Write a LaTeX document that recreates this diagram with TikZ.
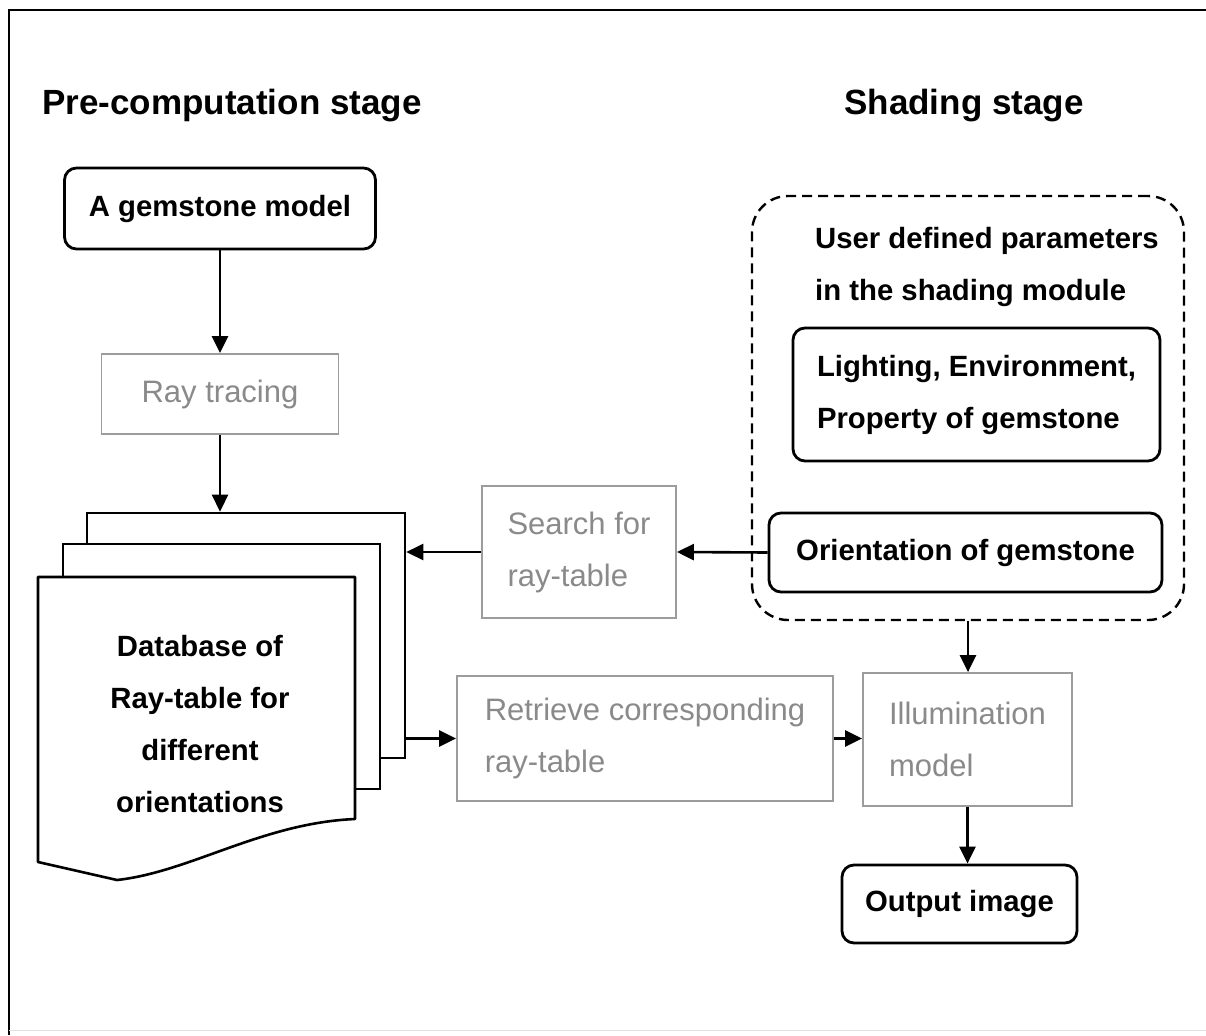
\documentclass[tikz,border=0pt]{standalone}
\usepackage{fontspec}
\setmainfont{Liberation Sans}
\usetikzlibrary{arrows.meta}
\definecolor{txtgray}{HTML}{8A8A8A}
\definecolor{boxgray}{HTML}{9C9C9C}
\begin{document}
\begin{tikzpicture}[x=1pt,y=-1pt,
  bfnt/.style={font=\fontsize{29.3}{52}\selectfont\bfseries},
  gfnt/.style={font=\fontsize{31}{52}\selectfont, text=txtgray},
  rbox/.style={draw=black, line width=2.8pt, rounded corners=12pt, fill=white, inner sep=0pt, bfnt, align=left},
  gbox/.style={draw=boxgray, line width=1.8pt, fill=white, inner sep=0pt, gfnt, align=left},
  sheet/.style={draw=black, line width=2.6pt, fill=white},
  arr/.style={line width=2.6pt, -{Triangle[length=17pt,width=16pt]}},
  title/.style={font=\fontsize{35}{40}\selectfont\bfseries}
]
\useasboundingbox (0,0) rectangle (1206,1035);
% frame
\draw[line width=2.6pt] (9,1035) -- (9,10) -- (1206,10);
\draw[line width=1pt, black!12] (9,1030) -- (1206,1030);

% titles
\node[title] (pretitle) at (232,106) {Pre-computation stage};
\node[title] (shadetitle) at (964,106) {Shading stage};

% left column
\node[rbox, minimum width=311pt, minimum height=81pt] (gem) at (220,208.5) {A gemstone model};
\node[gbox, minimum width=237pt, minimum height=80pt] (ray) at (220,394) {Ray tracing};

% document stack
\node[sheet, minimum width=318pt, minimum height=245pt, inner sep=0pt] (sheet3) at (246,635.5) {};
\node[sheet, minimum width=317pt, minimum height=245pt, inner sep=0pt] (sheet2) at (221.5,666.5) {};
\draw[sheet, line join=round] (38,577) -- (355,577) -- (355,819)
   .. controls (262,823) and (190,872) .. (117,880) -- (38,862) -- cycle;
\node[bfnt, align=center] (db) at (200,724) {Database of\\Ray-table for\\different\\orientations};

% shading stage container
\node[draw=black, line width=2.4pt, dash pattern=on 10pt off 6pt, rounded corners=36pt,
      minimum width=432pt, minimum height=424pt, inner sep=0pt] (shading) at (968,408) {};
\node[bfnt, align=left] (udp) at (987,267) {User defined parameters\\in the shading module};
\node[rbox, minimum width=367pt, minimum height=133pt] (light) at (976.5,394.5) {Lighting, Environment,\\Property of gemstone};
\node[rbox, minimum width=393pt, minimum height=79pt] (orient) at (965.5,552.5) {Orientation of gemstone};

% middle / lower boxes
\node[gbox, minimum width=194pt, minimum height=132pt] (search) at (579,552) {Search for\\ray-table};
\node[gbox, minimum width=376pt, minimum height=125pt] (retr) at (645,738.5) {Retrieve corresponding\\ray-table};
\node[gbox, minimum width=209pt, minimum height=133pt] (illum) at (967.5,739.5) {Illumination\\model};
\node[rbox, minimum width=235pt, minimum height=78pt] (out) at (959.5,904) {Output image};

% connectors
\draw[arr] (gem.south) -- (ray.north);
\draw[arr] (ray.south) -- (ray.south |- sheet3.north);
\draw[arr] (search.west) -- (search.west -| sheet3.east);
\draw[arr] (orient.west) -- (search.east);
\draw[arr] (sheet3.east |- retr.west) -- (retr.west);
\draw[arr] (retr.east) -- (retr.east -| illum.west);
\draw[arr] (shading.south) -- (shading.south |- illum.north);
\draw[arr] (illum.south) -- (illum.south |- out.north);
\end{tikzpicture}
\end{document}
